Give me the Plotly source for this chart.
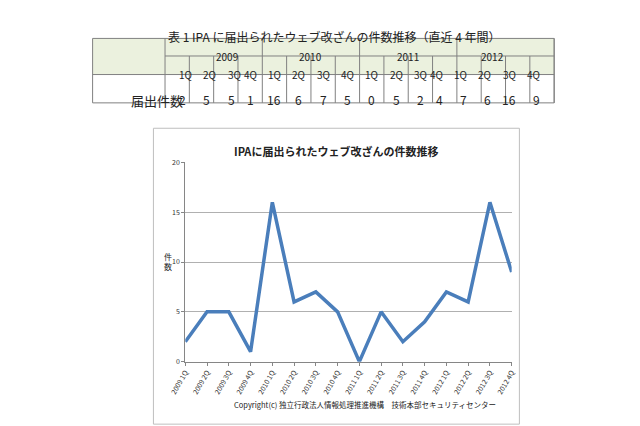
import plotly.graph_objects as go

# data
years = ['2009', '2010', '2011', '2012']
quarters = ['1Q', '2Q', '3Q', '4Q']
counts = [2, 5, 5, 1, 16, 6, 7, 5, 0, 5, 2, 4, 7, 6, 16, 9]
x_labels = [f'{y} {q}' for y in years for q in quarters]

W, H = 640, 426
def px(x): return x / W
def py(y): return 1 - y / H

fig = go.Figure()
fig.add_trace(go.Scatter(x=x_labels, y=counts, mode='lines',
                         line=dict(color='#4a7ebb', width=3.5), showlegend=False))

shapes = []
annots = []
font = dict(family='Noto Sans CJK JP', color='#222')

def note(x, y, text, size, **kw):
    annots.append(dict(xref='paper', yref='paper', x=x, y=y, text=text, showarrow=False,
                       font=dict(size=size, **font), **kw))

# table at the top
tx0, tx1, c0 = 70, 548, 145
rows = [25, 43, 62, 91]
cw = (tx1 - c0) / 16
green = '#ebf1de'
grid = '#808080'
shapes.append(dict(type='rect', xref='paper', yref='paper', x0=px(tx0), x1=px(tx1),
                   y0=py(rows[2]), y1=py(rows[0]), fillcolor=green, line=dict(width=0), layer='below'))
shapes.append(dict(type='rect', xref='paper', yref='paper', x0=px(tx0), x1=px(tx1),
                   y0=py(rows[3]), y1=py(rows[0]), line=dict(color=grid, width=1)))
for r in rows[1:3]:
    shapes.append(dict(type='line', xref='paper', yref='paper', x0=px(c0 if r == rows[1] else tx0),
                       x1=px(tx1), y0=py(r), y1=py(r), line=dict(color=grid, width=1)))
for i in range(17):
    x = c0 + i * cw
    top = rows[0] if i % 4 == 0 else rows[1]
    shapes.append(dict(type='line', xref='paper', yref='paper', x0=px(x), x1=px(x),
                       y0=py(rows[3]), y1=py(top), line=dict(color=grid, width=1)))
for j, yr in enumerate(years):
    note(px(c0 + (j * 4 + 2) * cw), py((rows[0] + rows[1]) / 2), yr, 10)
for i, v in enumerate(counts):
    xc = px(c0 + (i + 0.5) * cw)
    note(xc, py((rows[1] + rows[2]) / 2), quarters[i % 4], 10)
    note(xc, py((rows[2] + rows[3]) / 2), str(v), 12)
note(px((tx0 + c0) / 2), py((rows[2] + rows[3]) / 2), '届出件数', 13)
note(0.5, py(12), '表 1 IPA に届出られたウェブ改ざんの件数推移（直近 4 年間）', 12)

# chart frame
shapes.append(dict(type='rect', xref='paper', yref='paper', x0=px(133), x1=px(512),
                   y0=py(420), y1=py(117), line=dict(color='#bfbfbf', width=1), layer='below'))
note(px(322), py(130), '<b>IPAに届出られたウェブ改ざんの件数推移</b>', 11)
note(px(142), py(253), '件<br>数', 8)
note(px(490), py(408), 'Copyright(c) 独立行政法人情報処理推進機構　技術本部セキュリティセンター', 7.5,
     xanchor='right')

fig.update_layout(
    width=W, height=H, margin=dict(l=0, r=0, t=0, b=0),
    paper_bgcolor='white', plot_bgcolor='white',
    shapes=shapes, annotations=annots,
    xaxis=dict(domain=[px(166), px(504)], tickangle=-60, showgrid=False,
               showline=True, linecolor='#868686', ticks='outside', ticklen=3,
               tickcolor='#868686', tickfont=dict(size=7, family='Noto Sans CJK JP', color='#333')),
    yaxis=dict(domain=[py(356), py(152)], range=[0, 20], dtick=5, showgrid=True,
               gridcolor='#b0b0b0', showline=True, linecolor='#868686', ticks='outside',
               ticklen=3, tickcolor='#868686', zeroline=False,
               tickfont=dict(size=7, family='Noto Sans CJK JP', color='#333')),
)

fig.write_html('out.html')
